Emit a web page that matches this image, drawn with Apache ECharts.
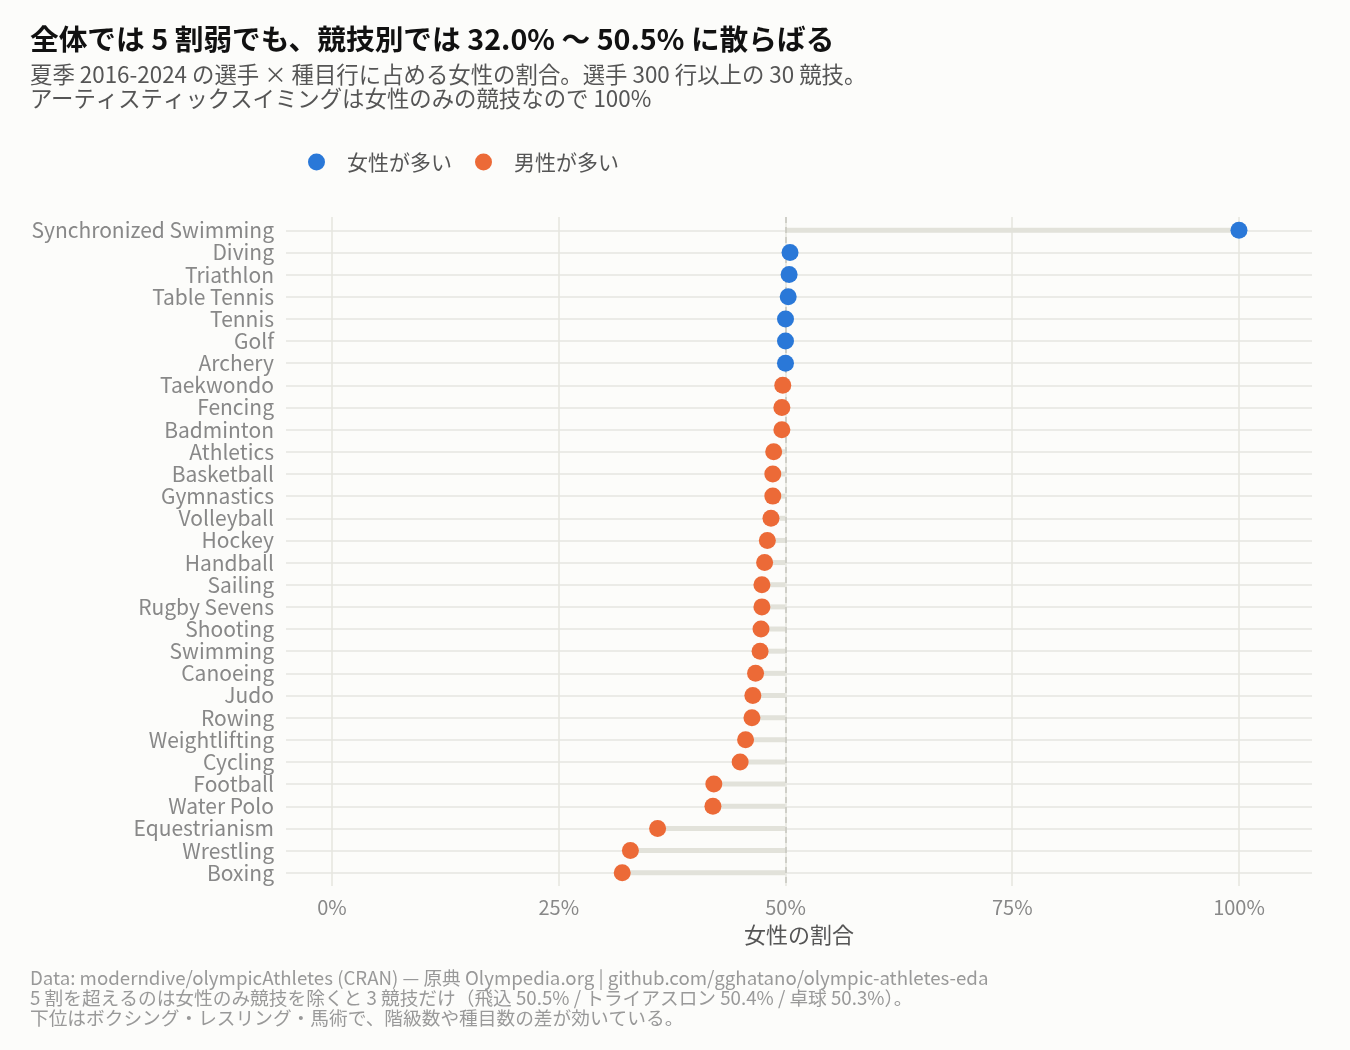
<!DOCTYPE html>
<html>
<head>
<meta charset="utf-8">
<script src="https://cdn.jsdelivr.net/npm/echarts@6/dist/echarts.min.js"></script>
<style>
html,body{margin:0;padding:0;background:#fcfcfa;}
#c{width:1350px;height:1050px;}
</style>
</head>
<body>
<div id="c"></div>
<script>
const sports = ["Synchronized Swimming","Diving","Triathlon","Table Tennis","Tennis","Golf","Archery","Taekwondo","Fencing","Badminton","Athletics","Basketball","Gymnastics","Volleyball","Hockey","Handball","Sailing","Rugby Sevens","Shooting","Swimming","Canoeing","Judo","Rowing","Weightlifting","Cycling","Football","Water Polo","Equestrianism","Wrestling","Boxing"];
const femaleShare = [100.0,50.5,50.4,50.3,50.0,50.0,50.0,49.7,49.6,49.6,48.7,48.6,48.6,48.4,48.0,47.7,47.4,47.4,47.3,47.2,46.7,46.4,46.3,45.6,45.0,42.1,42.0,35.9,32.9,32.0];
const xTicks = [0,25,50,75,100];
const legendNames = ["女性が多い","男性が多い"];
const titleText = "全体では 5 割弱でも、競技別では 32.0% 〜 50.5% に散らばる";
const subtitleText = "夏季 2016-2024 の選手 × 種目行に占める女性の割合。選手 300 行以上の 30 競技。\nアーティスティックスイミングは女性のみの競技なので 100%";
const captionText = "Data: moderndive/olympicAthletes (CRAN) — 原典 Olympedia.org | github.com/gghatano/olympic-athletes-eda\n5 割を超えるのは女性のみ競技を除くと 3 競技だけ（飛込 50.5% / トライアスロン 50.4% / 卓球 50.3%）。\n下位はボクシング・レスリング・馬術で、階級数や種目数の差が効いている。";
const xName = "女性の割合";

const FONT = '"Noto Sans CJK JP", "Noto Sans", sans-serif';
const femaleColor = '#2a78d8';
const maleColor = '#ec6a37';
const idx = sports.map((s,i)=>i);

const chart = echarts.init(document.getElementById('c'));
const femaleData = [], maleData = [];
femaleShare.forEach((v,i)=>{ (v>=50?femaleData:maleData).push([v,i]); });

const gridLineStyle = {color:'#e6e6e0', width:1.6, type:'solid'};

chart.setOption({
  backgroundColor:'#fcfcfa',
  animation:false,
  textStyle:{fontFamily:FONT},
  title:[
    {text:titleText, left:30, top:22.5, padding:0, textStyle:{fontFamily:FONT, fontSize:28.7, fontWeight:'bold', color:'#111', lineHeight:34}},
    {text:subtitleText, left:30, top:62, padding:0, textStyle:{fontFamily:FONT, fontSize:22.4, fontWeight:'normal', color:'#555', lineHeight:24}},
    {text:captionText, left:30, top:968, padding:0, textStyle:{fontFamily:FONT, fontSize:18.7, fontWeight:'normal', color:'#999', lineHeight:20}}
  ],
  legend:{
    left:308, top:151.5, padding:0, itemWidth:17, itemHeight:17, itemGap:23, icon:'circle',
    data:legendNames,
    textStyle:{fontFamily:FONT, fontSize:21, color:'#555', padding:[0,0,0,17]}
  },
  grid:{left:286, right:38, top:217, bottom:164, containLabel:false},
  xAxis:{
    type:'value', min:-5.07, max:108.05,
    name:xName, nameLocation:'middle', nameGap:38,
    nameTextStyle:{fontFamily:FONT, fontSize:22, color:'#555'},
    axisLine:{show:false}, axisTick:{show:false}, splitLine:{show:false},
    axisLabel:{customValues:xTicks, formatter:v=>v+'%', fontFamily:FONT, fontSize:20, color:'#888', margin:11}
  },
  yAxis:{
    type:'value', inverse:true, min:-0.6, max:29.6,
    axisLine:{show:false}, axisTick:{show:false}, splitLine:{show:false},
    axisLabel:{customValues:idx, formatter:v=>sports[Math.round(v)], fontFamily:FONT, fontSize:21, color:'#888', margin:12}
  },
  series:[
    {
      type:'scatter', data:[], z:1, silent:true,
      markLine:{
        z:1, silent:true, symbol:'none', label:{show:false}, animation:false,
        lineStyle:gridLineStyle,
        data: idx.map(i=>({yAxis:i})).concat(xTicks.map(t=>({xAxis:t})))
      }
    },
    {
      type:'custom', z:2, silent:true,
      data: femaleShare.map((v,i)=>[v,i]),
      encode:{x:0,y:1},
      renderItem:(params, api)=>{
        const p0 = api.coord([50, api.value(1)]);
        const p1 = api.coord([api.value(0), api.value(1)]);
        return {type:'line', shape:{x1:p0[0],y1:p0[1],x2:p1[0],y2:p1[1]}, style:{stroke:'#e2e2da', lineWidth:5}};
      }
    },
    {
      type:'scatter', data:[], z:3, silent:true,
      markLine:{
        z:3, silent:true, symbol:'none', label:{show:false}, animation:false,
        lineStyle:{color:'#c6c6be', width:1.5, type:[6,4]},
        data:[{xAxis:50}]
      }
    },
    {name:legendNames[0], type:'scatter', z:10, data:femaleData, symbolSize:17, itemStyle:{color:femaleColor, opacity:1}},
    {name:legendNames[1], type:'scatter', z:10, data:maleData, symbolSize:17, itemStyle:{color:maleColor, opacity:1}}
  ]
});
</script>
</body>
</html>
